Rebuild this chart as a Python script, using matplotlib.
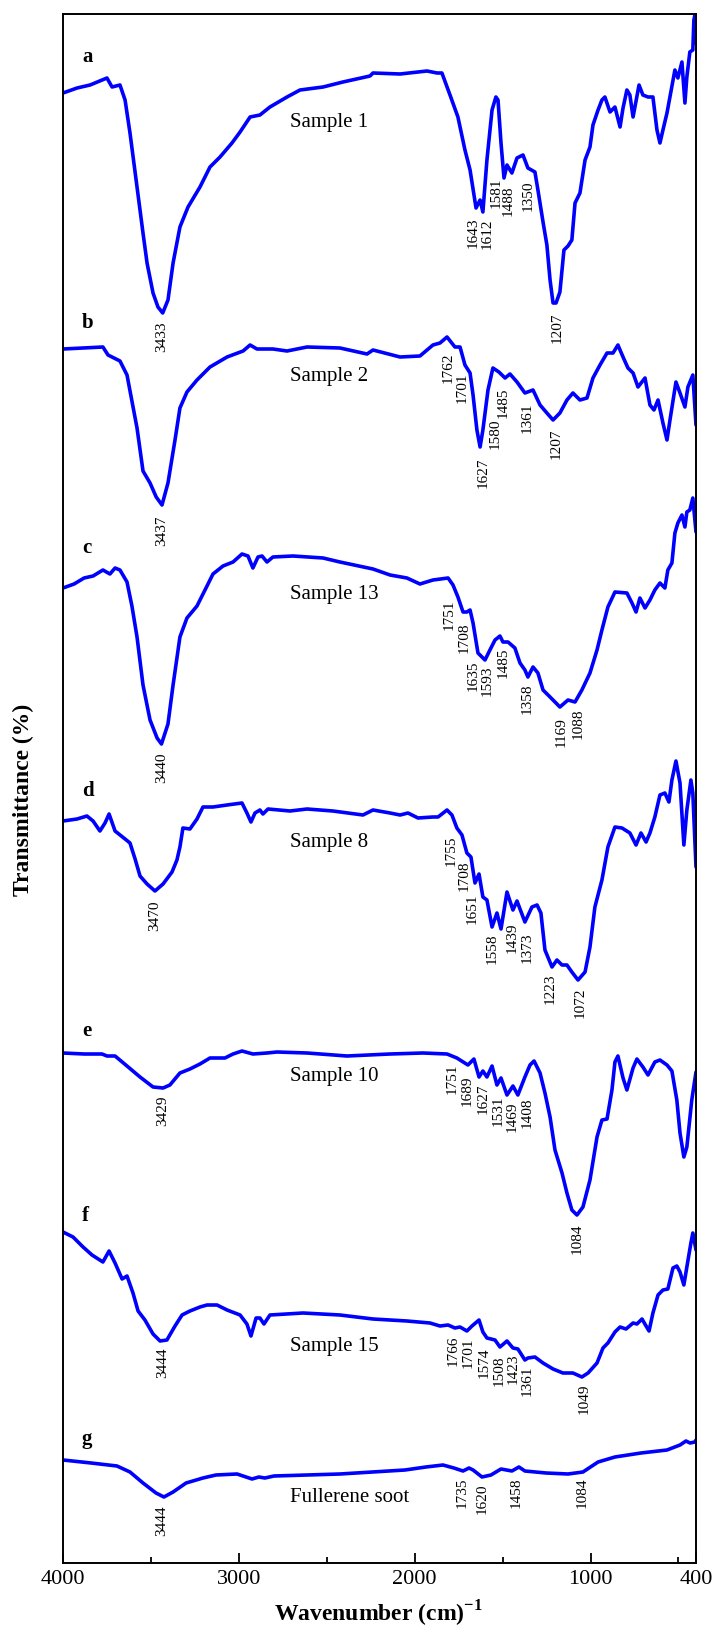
import matplotlib
matplotlib.use('Agg')
import matplotlib.pyplot as plt

plt.rcParams['font.family'] = ['Liberation Serif', 'DejaVu Serif']
plt.rcParams['mathtext.fontset'] = 'custom'
plt.rcParams['mathtext.rm'] = 'Liberation Serif'
plt.rcParams['mathtext.bf'] = 'Liberation Serif:bold'

# wavenumber (cm-1) and offset transmittance (a.u.)
a_wn = [4000, 3920, 3846, 3750, 3721, 3676, 3647, 3619, 3579, 3545, 3522, 3488, 3460, 3433, 3403,
        3374, 3335, 3289, 3221, 3164, 3107, 3039, 2993, 2936, 2880, 2823, 2726, 2652, 2521, 2408,
        2254, 2237, 2083, 1930, 1873, 1845, 1799, 1754, 1714, 1685, 1651, 1628, 1612, 1589, 1560,
        1538, 1526, 1509, 1492, 1475, 1447, 1418, 1384, 1356, 1316, 1299, 1270, 1248, 1230, 1213,
        1196, 1174, 1151, 1128, 1106, 1088, 1060, 1031, 1003, 986, 957, 935, 918, 889, 861, 832,
        815, 793, 776, 758, 724, 702, 673, 645, 622, 605, 588, 565, 520, 503, 480, 463, 452, 435,
        418, 412, 405, 400]
a_t = [1470, 1475, 1478, 1485, 1476, 1478, 1463, 1430, 1376, 1330, 1300, 1270, 1256, 1250, 1263,
       1300, 1336, 1356, 1376, 1396, 1406, 1420, 1431, 1446, 1448, 1456, 1466, 1473, 1476, 1481,
       1487, 1490, 1489, 1492, 1490, 1490, 1468, 1446, 1413, 1393, 1355, 1363, 1351, 1403, 1453,
       1466, 1463, 1420, 1385, 1398, 1390, 1405, 1408, 1395, 1391, 1373, 1341, 1318, 1283, 1260,
       1260, 1271, 1313, 1317, 1323, 1360, 1370, 1403, 1416, 1438, 1453, 1463, 1466, 1451, 1456, 1436,
       1455, 1473, 1468, 1446, 1478, 1468, 1466, 1466, 1433, 1420, 1433, 1450, 1493, 1485, 1501, 1460,
       1486, 1511, 1513, 1543, 1549, 1520]

b_wn = [4000, 3773, 3744, 3676, 3636, 3579, 3545, 3505, 3470, 3437, 3403, 3363, 3335, 3295, 3238,
        3164, 3067, 2976, 2936, 2897, 2806, 2726, 2612, 2425, 2271, 2237, 2083, 1970, 1896, 1856,
        1816, 1771, 1742, 1714, 1685, 1668, 1646, 1628, 1612, 1583, 1555, 1521, 1486, 1458, 1418,
        1373, 1327, 1287, 1248, 1213, 1174, 1134, 1100, 1060, 1020, 986, 946, 906, 872, 844, 815,
        787, 758, 730, 690, 662, 639, 616, 588, 565, 548, 514, 491, 463, 446, 418, 400]
b_t = [1214, 1216, 1208, 1202, 1188, 1135, 1092, 1080, 1066, 1058, 1080, 1123, 1155, 1171, 1183,
       1196, 1206, 1212, 1218, 1214, 1214, 1212, 1216, 1215, 1209, 1213, 1206, 1207, 1218, 1220,
       1226, 1216, 1216, 1198, 1190, 1168, 1133, 1116, 1133, 1173, 1195, 1191, 1185, 1189, 1181,
       1170, 1173, 1158, 1150, 1143, 1150, 1163, 1170, 1163, 1165, 1185, 1198, 1210, 1210, 1218, 1206,
       1195, 1190, 1176, 1185, 1158, 1153, 1163, 1140, 1123, 1143, 1181, 1170, 1156, 1176, 1188, 1138]

c_wn = [4000, 3937, 3880, 3829, 3773, 3733, 3704, 3676, 3636, 3608, 3579, 3545, 3505, 3465, 3440,
        3403, 3374, 3335, 3295, 3238, 3181, 3147, 3090, 3033, 2982, 2948, 2920, 2891, 2868, 2840,
        2806, 2692, 2521, 2425, 2237, 2140, 2044, 1970, 1896, 1810, 1782, 1754, 1725, 1703, 1685,
        1668, 1640, 1600, 1572, 1543, 1515, 1498, 1469, 1430, 1401, 1373, 1356, 1327, 1299, 1270,
        1230, 1174, 1128, 1088, 1049, 1003, 963, 935, 901, 861, 793, 764, 741, 719, 690, 662, 634,
        605, 577, 560, 537, 520, 503, 480, 463, 452, 435, 418, 400]
c_t = [975, 979, 985, 987, 993, 989, 995, 993, 981, 957, 926, 878, 843, 825, 819,
       839, 878, 926, 945, 957, 977, 989, 997, 1001, 1009, 1007, 995, 1006, 1007, 1001,
       1006, 1007, 1005, 1001, 994, 988, 985, 979, 983, 985, 978, 966, 951, 951, 953,
       940, 910, 903, 913, 923, 927, 921, 921, 915, 900, 893, 886, 896, 890, 873,
       866, 856, 863, 861, 873, 890, 913, 933, 956, 971, 970, 960, 951, 965, 955, 963, 973,
       980, 975, 993, 1000, 1030, 1040, 1048, 1036, 1051, 1053, 1065, 1031]

d_wn = [4000, 3920, 3864, 3829, 3790, 3761, 3738, 3704, 3647, 3619, 3590, 3562, 3522, 3477, 3431,
        3380, 3352, 3335, 3318, 3278, 3238, 3204, 3147, 3067, 2982, 2954, 2931, 2908, 2880, 2863,
        2834, 2709, 2612, 2465, 2294, 2237, 2140, 2083, 2038, 1981, 1896, 1867, 1816, 1788, 1760,
        1731, 1703, 1680, 1657, 1634, 1612, 1589, 1560, 1532, 1509, 1475, 1441, 1418, 1373, 1333,
        1304, 1282, 1259, 1219, 1191, 1162, 1134, 1106, 1071, 1031, 1003, 975, 935, 901, 861, 821,
        776, 741, 713, 684, 662, 634, 605, 577, 554, 537, 514, 491, 469, 452, 429, 418, 400]
d_t = [742, 744, 747, 742, 732, 740, 749, 732, 724, 720, 704, 687, 679, 672, 679,
       691, 703, 716, 735, 734, 744, 756, 756, 758, 760, 750, 741, 750, 753, 749,
       754, 752, 754, 752, 748, 753, 750, 748, 750, 745, 746, 746, 753, 748, 735,
       728, 710, 706, 680, 689, 666, 663, 636, 650, 634, 671, 653, 662, 641, 656,
       658, 650, 613, 596, 603, 598, 598, 591, 583, 591, 616, 656, 683, 716, 736, 735,
       730, 718, 730, 721, 730, 746, 768, 770, 761, 783, 802, 780, 718, 753, 783, 770, 696]

e_wn = [4000, 3880, 3778, 3750, 3704, 3636, 3562, 3488, 3431, 3392, 3335, 3278, 3221, 3164, 3079,
        3033, 2982, 2920, 2840, 2783, 2612, 2385, 2140, 1953, 1816, 1760, 1697, 1663, 1634, 1612,
        1589, 1560, 1532, 1509, 1475, 1441, 1413, 1373, 1344, 1321, 1287, 1259, 1230, 1202, 1162,
        1134, 1106, 1077, 1043, 1003, 963, 935, 906, 878, 861, 844, 815, 793, 758, 736, 702, 673,
        634, 605, 565, 537, 509, 491, 469, 452, 424, 400]
e_t = [510, 509, 509, 507, 507, 497, 486, 476, 475, 478, 490, 494, 499, 505, 505,
       509, 512, 509, 510, 511, 510, 507, 509, 510, 509, 505, 498, 504, 486, 492,
       486, 497, 478, 485, 468, 477, 468, 486, 498, 502, 490, 470, 446, 413, 390,
       370, 353, 348, 356, 383, 426, 443, 444, 473, 501, 507, 485, 473, 495, 504, 496, 488,
       501, 503, 498, 492, 463, 430, 406, 416, 463, 491]

f_wn = [4000, 3943, 3886, 3835, 3773, 3738, 3704, 3664, 3636, 3602, 3573, 3534, 3488, 3448, 3409,
        3363, 3323, 3278, 3221, 3181, 3124, 3067, 2993, 2954, 2931, 2902, 2880, 2857, 2823, 2635,
        2425, 2237, 2044, 1913, 1856, 1810, 1771, 1742, 1703, 1674, 1634, 1612, 1589, 1543, 1515,
        1475, 1441, 1413, 1373, 1356, 1316, 1270, 1213, 1157, 1100, 1049, 1014, 963, 929, 901, 861,
        832, 798, 758, 736, 707, 684, 667, 645, 616, 588, 560, 531, 509, 491, 469, 452, 429, 418, 400]
f_t = [331, 326, 316, 308, 301, 312, 300, 284, 287, 270, 252, 243, 229, 222, 223,
       237, 248, 252, 256, 258, 258, 253, 248, 239, 227, 245, 245, 239, 248, 250,
       248, 244, 242, 240, 237, 238, 235, 236, 232, 237, 243, 231, 225, 223, 216,
       222, 215, 214, 203, 205, 206, 200, 194, 190, 190, 186, 190, 200, 215, 220, 231,
       236, 234, 240, 239, 244, 237, 232, 250, 268, 273, 274, 295, 297, 291, 278, 296, 320, 330, 313]

g_wn = [4000, 3840, 3693, 3619, 3545, 3471, 3426, 3374, 3300, 3204, 3130, 3010, 2959, 2925, 2886,
        2852, 2800, 2425, 2055, 1936, 1839, 1777, 1725, 1691, 1668, 1617, 1566, 1509, 1447, 1407,
        1373, 1253, 1128, 1043, 957, 861, 713, 565, 491, 457, 434, 406, 400]
g_t = [103, 100, 97, 91, 80, 70, 66, 71, 80, 85, 88, 89, 86, 84, 86,
       85, 87, 89, 93, 96, 98, 95, 92, 95, 93, 86, 88, 94, 92, 96,
       92, 90, 89, 91, 101, 106, 110, 113, 118, 122, 120, 121, 123]

spectra = [(a_wn, a_t), (b_wn, b_t), (c_wn, c_t), (d_wn, d_t), (e_wn, e_t), (f_wn, f_t), (g_wn, g_t)]

letters = ['a', 'b', 'c', 'd', 'e', 'f', 'g']
letter_y = [1506, 1240, 1015, 772, 532, 347, 124]
samples = ['Sample 1', 'Sample 2', 'Sample 13', 'Sample 8', 'Sample 10', 'Sample 15', 'Fullerene soot']
sample_y = [1441, 1187, 969, 721, 486, 217, 65]

# peak labels: text, x position (cm-1), top of text (a.u.)
peaks = [
    (['3433', '1643', '1612', '1581', '1488', '1350', '1207'],
     [3437, 1668, 1589, 1538, 1469, 1356, 1191],
     [1242, 1346, 1345, 1386, 1378, 1383, 1251]),
    (['3437', '1762', '1701', '1627', '1580', '1485', '1361', '1207'],
     [3437, 1811, 1731, 1612, 1543, 1498, 1361, 1196],
     [1048, 1211, 1191, 1106, 1145, 1176, 1161, 1135]),
    (['3440', '1751', '1708', '1635', '1593', '1485', '1358', '1169', '1088'],
     [3437, 1805, 1720, 1668, 1589, 1498, 1361, 1168, 1071],
     [811, 963, 941, 903, 898, 916, 880, 846, 855]),
    (['3470', '1755', '1708', '1651', '1558', '1439', '1373', '1223', '1072'],
     [3477, 1793, 1720, 1674, 1560, 1447, 1361, 1230, 1060],
     [663, 728, 703, 670, 630, 641, 631, 590, 576]),
    (['3429', '1751', '1689', '1627', '1531', '1469', '1408', '1084'],
     [3431, 1788, 1702, 1612, 1526, 1447, 1361, 1077],
     [467, 500, 488, 480, 468, 461, 465, 340]),
    (['3444', '1766', '1701', '1574', '1508', '1423', '1361', '1049'],
     [3431, 1782, 1697, 1606, 1521, 1441, 1361, 1037],
     [215, 228, 226, 216, 208, 210, 198, 180]),
    (['3444', '1735', '1620', '1458', '1084'],
     [3437, 1731, 1617, 1424, 1048],
     [58, 86, 80, 86, 85]),
]

fig = plt.figure(figsize=(7.14, 16.34), dpi=100)
ax = fig.add_axes([63 / 714, 71 / 1634, 633 / 714, 1549 / 1634])

for wn, t in spectra:
    ax.plot(wn, t, color='#0000ff', lw=2.6, solid_joinstyle='round', solid_capstyle='round')

for i in range(len(letters)):
    ax.text(3892, letter_y[i], letters[i], fontsize=15, fontweight='bold', ha='left', va='center')
    ax.text(2709, sample_y[i], samples[i], fontsize=15, ha='left', va='center')

for names, xs, ys in peaks:
    for s, x, y in zip(names, xs, ys):
        ax.text(x, y, s, fontsize=11, rotation=90, ha='center', va='top')

ax.set_xlim(4000, 400)
ax.set_ylim(0, 1549)
ax.set_yticks([])
ax.set_xticks([4000, 3000, 2000, 1000, 400])
ax.set_xticklabels(['4000', '3000', '2000', '1000', '400'], fontfamily='Liberation Serif')
ax.set_xticks([3500, 2500, 1500, 500], minor=True)
ax.tick_params(axis='x', which='major', direction='in', length=7, width=1.3, labelsize=16, pad=5)
ax.tick_params(axis='x', which='minor', direction='in', length=4.5, width=1.3)
for sp in ax.spines.values():
    sp.set_linewidth(1.4)

fig.text(23 / 714, 1 - 800 / 1634, 'Transmittance (%)', rotation=90, fontsize=17,
         fontweight='bold', ha='center', va='center')
fig.text(378 / 714, 1 - 1614 / 1634, r'Wavenumber (cm)$^{\mathbf{-1}}$', fontsize=17,
         fontweight='bold', ha='center', va='center')

fig.savefig('out.png', dpi=100)
